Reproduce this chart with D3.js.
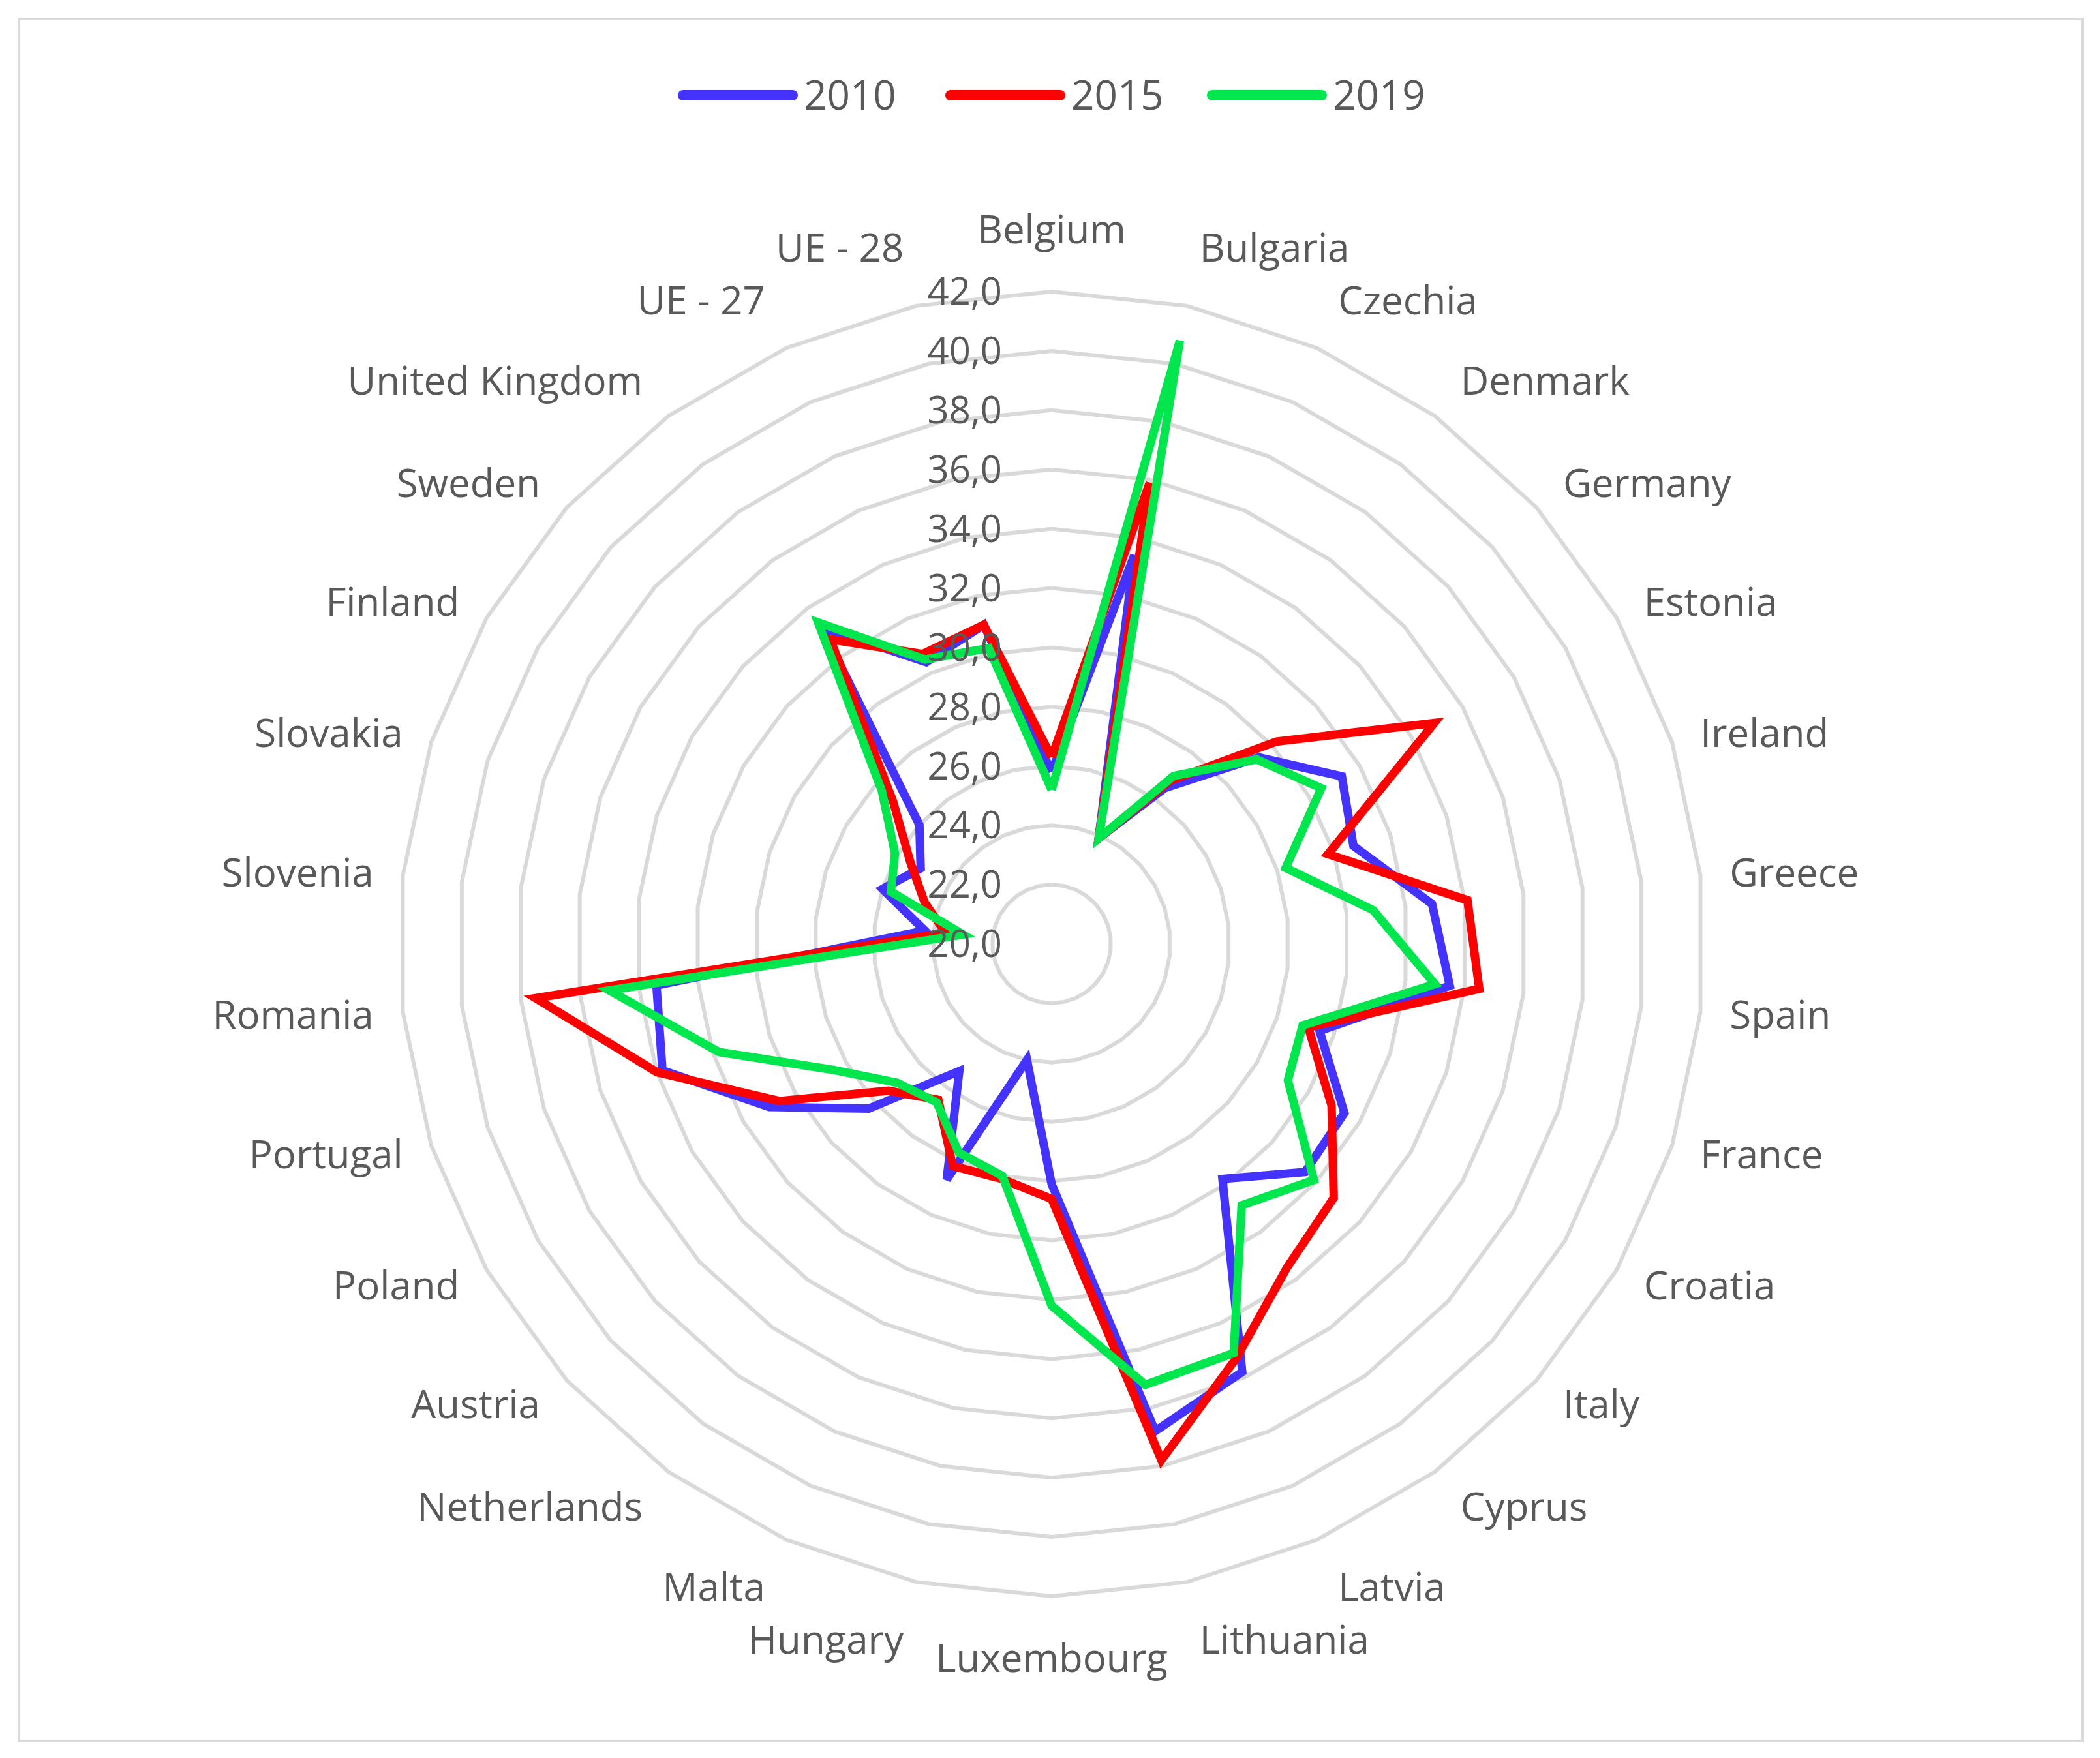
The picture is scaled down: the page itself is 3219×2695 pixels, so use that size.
<!DOCTYPE html>
<html><head><meta charset="utf-8">
<script src="https://cdn.jsdelivr.net/npm/d3@7/dist/d3.min.js"></script>
<style>body{margin:0;background:#fff}</style></head>
<body><svg id="c" width="3219" height="2695"></svg>
<script>
const categories = ["Belgium","Bulgaria","Czechia","Denmark","Germany","Estonia","Ireland","Greece","Spain","France","Croatia","Italy","Cyprus","Latvia","Lithuania","Luxembourg","Hungary","Malta","Netherlands","Austria","Poland","Portugal","Romania","Slovenia","Slovakia","Finland","Sweden","United Kingdom","UE - 27","UE - 28"];
const series2010 = [25.8,33.4,23.9,26.5,29.4,31.3,30.7,32.9,33.5,29.5,31.4,31.5,29.8,35.8,36.8,28.1,24.0,28.7,25.3,28.3,31.0,33.8,33.4,24.3,26.0,25.1,26.0,33.2,30.4,31.0];
const series2015 = [26.3,35.9,23.9,26.8,30.2,34.9,29.8,34.1,34.5,29.1,30.9,32.8,33.5,35.3,37.8,28.6,28.1,28.2,26.5,27.4,30.6,34.0,37.5,23.6,24.5,25.5,27.2,32.7,30.7,31.0];
const series2019 = [25.2,40.8,23.9,27.0,29.3,30.5,28.3,30.9,33.0,28.9,29.2,31.9,30.9,35.1,35.2,32.2,28.0,27.7,26.6,27.0,28.5,31.8,35.0,23.0,25.7,26.1,27.7,33.4,30.5,30.2];
const seriesNames = ["2010","2015","2019"];
const seriesColors = ["#4433ff","#ff0000","#00e64d"];
const tickValues = [20,22,24,26,28,30,32,34,36,38,40,42];

const svg = d3.select("#c");
svg.append("rect").attr("x",29).attr("y",29).attr("width",3163).attr("height",2640).attr("fill","none").attr("stroke","#d9d9d9").attr("stroke-width",4);
const cx=1612, cy=1447, R=1000, n=categories.length;
const r = d3.scaleLinear().domain([20,42]).range([0,R]);
const ang = d3.scaleLinear().domain([0,n]).range([0,2*Math.PI]);
const pt=(i,v)=>[cx+r(v)*Math.sin(ang(i)), cy-r(v)*Math.cos(ang(i))];
const g = svg.append("g");
tickValues.slice(1).forEach(t=>{
  g.append("path").attr("d", d3.line()(d3.range(n+1).map(i=>pt(i%n,t)))).attr("fill","none").attr("stroke","#d9d9d9").attr("stroke-width",6);
});
const font="'Open Sans', 'Noto Sans', sans-serif";
categories.forEach((c,i)=>{
  const a=ang(i), s=Math.sin(a), co=Math.cos(a);
  const lr=R+45+50*co*co*co*co;
  const x=cx+lr*s, y=cy-lr*co;
  const anchor=Math.abs(s)<0.15?"middle":(s>0?"start":"end");
  g.append("text").attr("x",x).attr("y",y).attr("dy","0.35em").attr("text-anchor",anchor)
   .attr("font-family",font).attr("font-size",60).attr("fill","#595959").text(c);
});
const series=[series2010,series2015,series2019];
series.forEach((s,k)=>{
  g.append("path").attr("d", d3.line()(s.map((v,i)=>pt(i,v)).concat([pt(0,s[0])])))
   .attr("fill","none").attr("stroke",seriesColors[k]).attr("stroke-width",13).attr("stroke-linejoin","miter");
});
tickValues.forEach(t=>{
  g.append("text").attr("x",cx-76).attr("y",cy-r(t)).attr("dy","0.35em").attr("text-anchor","end")
   .attr("font-family",font).attr("font-size",58).attr("fill","#595959").text(t.toFixed(1).replace(".",","));
});
const lg=svg.append("g");
const lx=[1047,1457,1858];
seriesNames.forEach((nm,k)=>{
  lg.append("line").attr("x1",lx[k]).attr("x2",lx[k]+168).attr("y1",146).attr("y2",146).attr("stroke",seriesColors[k]).attr("stroke-width",16).attr("stroke-linecap","round");
  lg.append("text").attr("x",lx[k]+185).attr("y",146).attr("dy","0.35em").attr("font-family",font).attr("font-size",62).attr("fill","#595959").text(nm);
});
</script></body></html>
